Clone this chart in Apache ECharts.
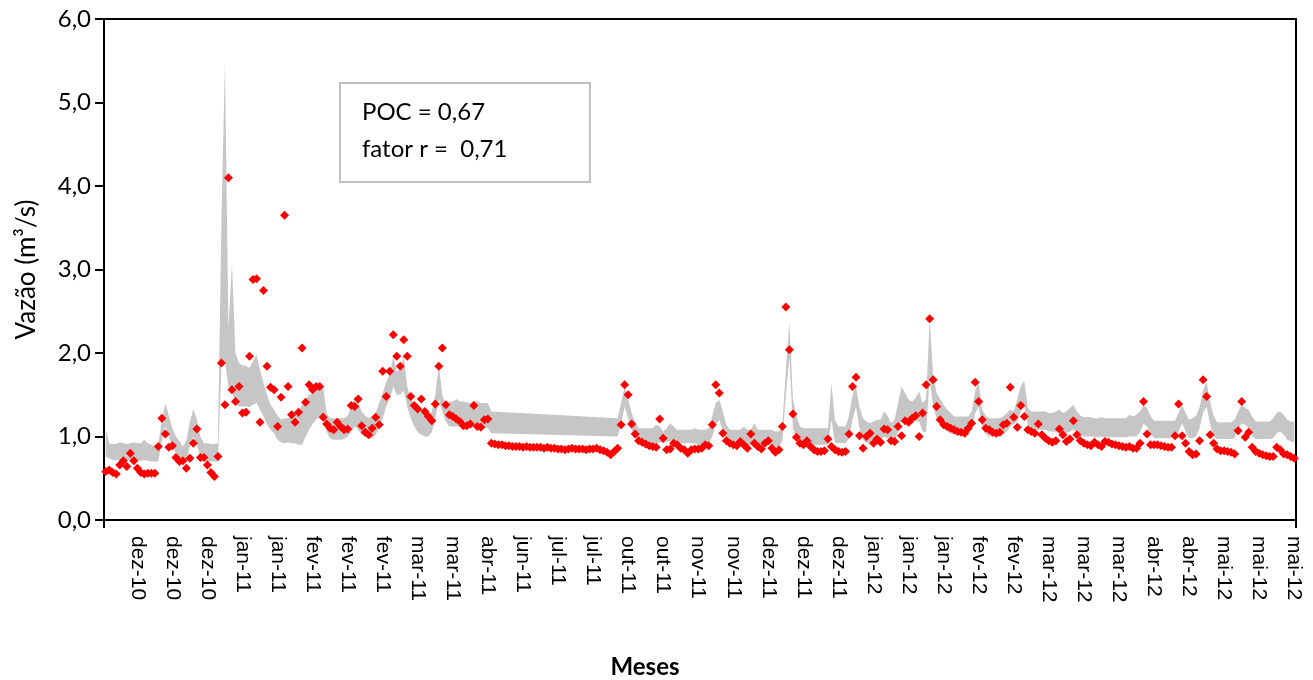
<!DOCTYPE html>
<html>
<head>
<meta charset="utf-8">
<title>Vazão</title>
<script src="https://cdn.jsdelivr.net/npm/echarts@6.0.0/dist/echarts.min.js"></script>
<style>
  html, body { margin: 0; padding: 0; background: #fff; }
  #chart { width: 1313px; height: 680px; }
</style>
</head>
<body>
<div id="chart"></div>
<script>
// Month labels shown under every 10th day of the series
const tickLabels = ['dez-10','dez-10','dez-10','jan-11','jan-11','fev-11','fev-11','fev-11','mar-11','mar-11',
  'abr-11','jun-11','jul-11','jul-11','out-11','out-11','nov-11','nov-11','dez-11','dez-11','dez-11',
  'jan-12','jan-12','jan-12','fev-12','fev-12','mar-12','mar-12','mar-12','abr-12','abr-12',
  'mai-12','mai-12','mai-12'];

// Observed discharge (m³/s)
const observed = [
  0.58,0.60,0.57,0.55,0.66,0.71,0.64,0.80,0.71,0.62,
  0.57,0.55,0.56,0.56,0.56,0.88,1.22,1.03,0.87,0.89,
  0.75,0.70,0.71,0.62,0.74,0.92,1.09,0.75,0.75,0.66,
  0.57,0.52,0.76,1.88,1.38,4.10,1.56,1.42,1.60,1.28,
  1.29,1.96,2.88,2.89,1.17,2.75,1.84,1.59,1.56,1.12,
  1.47,3.65,1.60,1.26,1.17,1.29,2.06,1.41,1.62,1.56,
  1.60,1.60,1.23,1.15,1.10,1.08,1.17,1.12,1.08,1.09,
  1.37,1.36,1.45,1.13,1.05,1.02,1.10,1.23,1.14,1.78,
  1.48,1.78,2.22,1.96,1.84,2.16,1.96,1.48,1.37,1.33,
  1.45,1.30,1.24,1.19,1.39,1.84,2.06,1.38,1.26,1.24,
  1.21,1.18,1.13,1.13,1.15,1.37,1.12,1.11,1.20,1.21,
  0.92,0.91,0.90,0.90,0.89,0.89,0.88,0.88,0.88,0.87,
  0.88,0.87,0.87,0.87,0.87,0.86,0.87,0.86,0.86,0.85,
  0.85,0.84,0.85,0.86,0.85,0.85,0.85,0.84,0.85,0.85,
  0.86,0.84,0.83,0.81,0.78,0.82,0.86,1.14,1.62,1.50,
  1.15,1.03,0.95,0.93,0.91,0.89,0.88,0.87,1.21,0.98,
  0.84,0.85,0.92,0.90,0.86,0.84,0.80,0.84,0.85,0.85,
  0.86,0.90,0.89,1.14,1.62,1.52,1.04,0.95,0.92,0.90,
  0.89,0.94,0.90,0.86,1.03,0.92,0.88,0.85,0.92,0.95,
  0.86,0.81,0.84,1.12,2.55,2.04,1.27,0.99,0.92,0.90,
  0.95,0.88,0.84,0.82,0.82,0.83,0.97,0.88,0.84,0.82,
  0.81,0.82,1.03,1.60,1.71,1.01,0.86,1.00,1.04,0.92,
  0.97,0.93,1.09,1.08,0.95,0.94,1.12,1.01,1.19,1.17,
  1.22,1.25,1.00,1.28,1.62,2.41,1.68,1.36,1.20,1.14,
  1.12,1.10,1.08,1.06,1.05,1.04,1.10,1.16,1.65,1.42,
  1.20,1.10,1.08,1.05,1.04,1.05,1.14,1.16,1.59,1.23,
  1.11,1.37,1.24,1.08,1.06,1.04,1.15,1.02,0.98,0.95,
  0.93,0.95,1.09,1.02,0.94,0.97,1.19,1.02,0.95,0.92,
  0.90,0.89,0.93,0.90,0.88,0.94,0.93,0.91,0.90,0.89,
  0.88,0.87,0.88,0.86,0.86,0.92,1.42,1.03,0.90,0.90,
  0.90,0.89,0.88,0.87,0.87,1.01,1.39,1.01,0.92,0.82,
  0.78,0.79,0.95,1.68,1.48,1.02,0.92,0.85,0.83,0.83,
  0.82,0.81,0.79,1.07,1.42,0.99,1.05,0.87,0.82,0.80,
  0.78,0.77,0.76,0.76,0.87,0.84,0.79,0.78,0.76,0.74
];

// Upper limit of the simulated band (null = no simulation that day)
const bandUpper = [
  1.08,0.92,0.91,0.91,0.93,0.92,0.91,0.92,0.93,0.92,
  0.92,0.96,0.92,0.90,0.88,0.90,1.20,1.40,1.25,1.10,
  1.00,0.95,0.88,0.95,1.18,1.33,1.20,1.00,0.92,0.92,
  0.91,0.91,0.92,3.60,5.47,2.30,3.07,2.00,1.88,1.85,
  1.85,1.82,1.90,1.98,1.80,1.64,1.50,1.38,1.32,1.25,
  1.20,1.22,1.22,1.25,1.30,1.30,1.38,1.45,1.50,1.52,
  1.55,1.58,1.60,1.28,1.22,1.22,1.22,1.22,1.22,1.25,
  1.35,1.48,1.40,1.30,1.25,1.22,1.25,1.28,1.40,1.52,
  1.65,1.75,1.96,1.78,1.80,1.96,1.60,1.45,1.38,1.30,
  1.28,1.26,1.25,1.30,1.50,1.86,1.50,1.38,1.42,1.42,
  1.45,1.42,1.42,1.41,1.40,1.42,1.42,1.40,1.40,1.40,
  1.30,null,null,null,null,null,null,null,null,null,
  null,null,null,null,null,null,null,null,null,null,
  null,null,null,null,null,null,null,null,null,null,
  null,null,null,null,null,null,1.22,1.40,1.60,1.45,
  1.28,1.18,1.10,1.10,1.10,1.10,1.10,1.14,1.12,1.06,
  1.10,1.16,1.12,1.08,1.08,1.08,1.08,1.08,1.10,1.08,
  1.08,1.08,1.10,1.25,1.40,1.44,1.30,1.14,1.08,1.08,
  1.08,1.08,1.12,1.08,1.08,1.16,1.08,1.08,1.08,1.08,
  1.08,1.06,1.06,1.15,1.80,2.37,1.45,1.25,1.12,1.10,
  1.10,1.10,1.10,1.10,1.10,1.10,1.10,1.64,1.20,1.12,
  1.12,1.12,1.25,1.50,1.60,1.35,1.22,1.18,1.16,1.18,
  1.20,1.20,1.30,1.25,1.16,1.20,1.40,1.60,1.52,1.44,
  1.42,1.46,1.54,1.40,1.45,2.40,1.75,1.52,1.45,1.38,
  1.32,1.28,1.24,1.24,1.24,1.24,1.24,1.30,1.55,1.64,
  1.32,1.25,1.22,1.22,1.22,1.22,1.24,1.28,1.32,1.30,
  1.45,1.60,1.67,1.34,1.30,1.30,1.30,1.30,1.30,1.28,
  1.28,1.30,1.32,1.28,1.30,1.34,1.38,1.30,1.25,1.23,
  1.23,1.23,1.22,1.22,1.23,1.22,1.22,1.22,1.22,1.22,
  1.22,1.22,1.26,1.24,1.26,1.30,1.38,1.34,1.25,1.19,
  1.19,1.19,1.19,1.19,1.19,1.19,1.28,1.38,1.28,1.20,
  1.22,1.25,1.35,1.55,1.66,1.42,1.25,1.17,1.17,1.17,
  1.17,1.17,1.20,1.30,1.38,1.34,1.32,1.24,1.18,1.18,
  1.18,1.18,1.18,1.22,1.28,1.30,1.26,1.20,1.18,1.18
];

// Lower limit of the simulated band
const bandLower = [
  0.76,0.74,0.72,0.72,0.72,0.72,0.72,0.72,0.72,0.71,
  0.71,0.72,0.71,0.70,0.70,0.70,0.95,1.12,1.00,0.88,
  0.80,0.74,0.68,0.72,0.88,1.00,0.90,0.76,0.70,0.70,
  0.70,0.70,0.70,1.85,1.90,1.60,1.55,1.40,1.36,1.36,
  1.36,1.35,1.38,1.40,1.32,1.24,1.15,1.08,1.04,0.96,
  0.93,0.92,0.93,0.92,0.92,0.90,0.90,1.00,1.08,1.15,
  1.20,1.24,1.25,1.06,0.98,0.96,0.96,0.96,0.97,1.00,
  1.05,1.12,1.08,1.02,1.00,0.98,0.98,1.02,1.10,1.22,
  1.36,1.45,1.60,1.50,1.50,1.55,1.36,1.22,1.12,1.05,
  1.02,1.00,1.00,1.05,1.20,1.45,1.30,1.18,1.12,1.12,
  1.12,1.12,1.12,1.12,1.12,1.12,1.12,1.12,1.12,1.10,
  1.04,null,null,null,null,null,null,null,null,null,
  null,null,null,null,null,null,null,null,null,null,
  null,null,null,null,null,null,null,null,null,null,
  null,null,null,null,null,null,1.00,1.15,1.36,1.22,
  1.08,1.00,0.93,0.92,0.91,0.90,0.88,0.92,0.93,0.92,
  0.93,0.95,0.93,0.92,0.92,0.92,0.92,0.92,0.92,0.90,
  0.90,0.90,0.92,1.00,1.14,1.20,1.06,0.96,0.90,0.90,
  0.90,0.90,0.92,0.90,0.90,0.92,0.90,0.90,0.90,0.90,
  0.90,0.88,0.88,0.95,1.50,1.95,1.10,0.98,0.92,0.90,
  0.90,0.90,0.90,0.90,0.90,0.90,0.90,1.20,0.92,0.92,
  0.92,0.92,0.98,1.20,1.36,1.10,0.96,0.92,0.92,0.94,
  0.95,0.96,1.00,0.98,0.95,0.94,1.05,1.20,1.22,1.18,
  1.15,1.18,1.18,1.06,1.05,1.70,1.35,1.22,1.15,1.10,
  1.06,1.04,1.02,1.02,1.02,1.02,1.02,1.08,1.28,1.36,
  1.10,1.03,1.00,1.00,1.00,1.00,1.02,1.06,1.12,1.15,
  1.18,1.30,1.36,1.14,1.08,1.08,1.08,1.08,1.08,1.06,
  1.06,1.05,1.06,1.05,1.04,1.06,1.08,1.05,1.02,1.00,
  1.00,1.00,0.99,0.99,1.00,0.99,0.99,0.99,0.99,0.99,
  0.99,0.99,1.00,1.00,1.00,1.05,1.15,1.12,1.03,0.98,
  0.98,0.98,0.98,0.98,0.98,0.98,1.06,1.16,1.06,0.98,
  0.98,1.00,1.10,1.28,1.36,1.15,1.00,0.97,0.97,0.97,
  0.97,0.97,0.98,1.08,1.16,1.14,1.10,1.00,0.97,0.97,
  0.97,0.97,0.97,0.98,1.04,1.06,1.02,0.96,0.94,0.93
];

const yTicks = [0, 1, 2, 3, 4, 5, 6];

// Category per day; every 10th day (starting at the 10th) carries a month label
const days = observed.map((_, i) => String(i + 1));
const labelEvery = 10;
const labelOffset = 9;

// Days that have both band limits; days without simulation are bridged by a straight edge
const bandRows = [];
bandUpper.forEach((u, i) => {
  if (u != null && bandLower[i] != null) bandRows.push([i, bandLower[i], u]);
});

const sansC = 'Lato, "Open Sans", sans-serif';
const sansA = '"Liberation Sans", Arial, sans-serif';

const chart = echarts.init(document.getElementById('chart'), null, { renderer: 'canvas' });
chart.setOption({
  animation: false,
  backgroundColor: '#ffffff',
  grid: { left: 104, right: 17, top: 19, bottom: 160, show: true, borderColor: '#000', borderWidth: 2, backgroundColor: 'transparent' },
  xAxis: {
    type: 'category',
    data: days,
    boundaryGap: true,
    axisLine: { lineStyle: { color: '#000', width: 2 } },
    axisTick: { show: true, interval: (i) => i === 0, length: 8, lineStyle: { color: '#000', width: 2 } },
    axisLabel: {
      interval: (i) => i >= labelOffset && (i - labelOffset) % labelEvery === 0,
      formatter: (v, i) => tickLabels[(i - labelOffset) / labelEvery] || '',
      rotate: -90,
      margin: 16,
      color: '#000',
      fontFamily: sansA,
      fontSize: 21
    },
    splitLine: { show: false }
  },
  yAxis: {
    type: 'value',
    min: yTicks[0],
    max: yTicks[yTicks.length - 1],
    interval: 1,
    name: 'Vazão (m³/s)',
    nameLocation: 'middle',
    nameGap: 64,
    nameTextStyle: { color: '#000', fontFamily: sansC, fontSize: 26 },
    axisLine: { show: true, lineStyle: { color: '#000', width: 2 } },
    axisTick: { show: true, length: 9, lineStyle: { color: '#000', width: 2 } },
    axisLabel: {
      margin: 13,
      color: '#000',
      fontFamily: sansC,
      fontSize: 24,
      formatter: (v) => v.toFixed(1).replace('.', ',')
    },
    splitLine: { show: false }
  },
  series: [
    {
      name: 'faixa simulada',
      type: 'custom',
      data: bandRows,
      encode: { x: 0, y: [1, 2] },
      silent: true,
      clip: true,
      z: 1,
      renderItem: (params, api) => {
        if (params.dataIndex !== 0) return null;
        const top = bandRows.map((r) => api.coord([r[0], r[2]]));
        const bottom = bandRows.map((r) => api.coord([r[0], r[1]])).reverse();
        return {
          type: 'polygon',
          shape: { points: top.concat(bottom) },
          style: { fill: '#c6c6c6', stroke: null }
        };
      }
    },
    {
      name: 'observado',
      type: 'scatter',
      data: observed,
      symbol: 'diamond',
      symbolSize: 9,
      itemStyle: { color: '#ff0000', opacity: 1 },
      z: 5
    }
  ],
  graphic: [
    {
      type: 'rect',
      shape: { x: 340, y: 83, width: 250, height: 99 },
      style: { fill: '#ffffff', stroke: '#bfbfbf', lineWidth: 2 },
      z: 10
    },
    {
      type: 'text',
      style: { x: 362, y: 112, text: 'POC = 0,67', fill: '#000', font: '24px ' + sansC, verticalAlign: 'middle' },
      z: 11
    },
    {
      type: 'text',
      style: { x: 362, y: 149, text: 'fator r =  0,71', fill: '#000', font: '24px ' + sansC, verticalAlign: 'middle' },
      z: 11
    },
    {
      type: 'text',
      style: { x: 645, y: 667, text: 'Meses', fill: '#000', font: 'bold 24px ' + sansC, align: 'center', verticalAlign: 'middle' },
      z: 11
    }
  ]
});
</script>
</body>
</html>
